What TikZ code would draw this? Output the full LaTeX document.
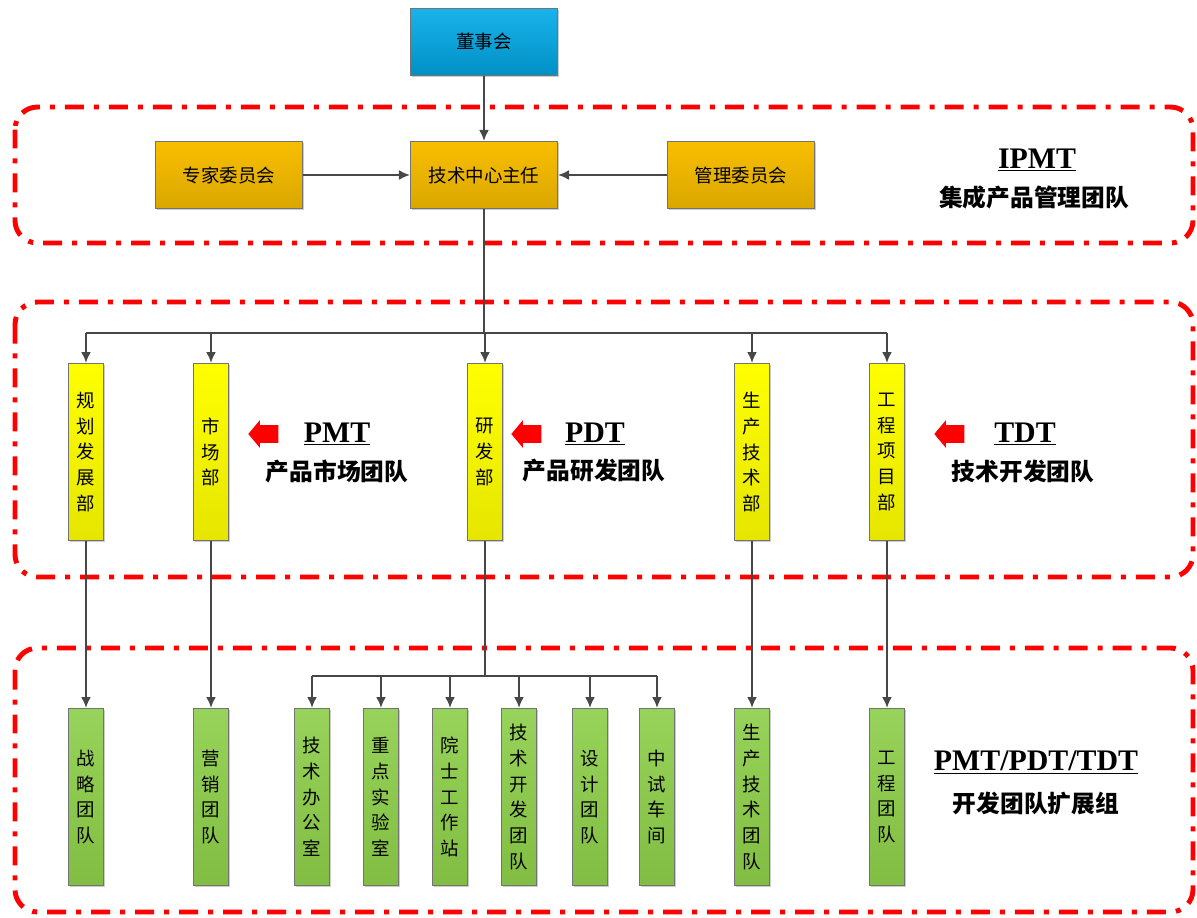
\documentclass[tikz,border=0pt]{standalone}
\usepackage{fontspec}
\setmainfont{Liberation Serif}
\newfontfamily\cjk{Noto Sans CJK SC}
\usetikzlibrary{arrows.meta,positioning,calc,shapes.arrows,shadows}
\definecolor{boardblue}{RGB}{0,170,232}
\definecolor{chieforange}{RGB}{248,190,0}
\definecolor{deptyellow}{RGB}{255,255,0}
\definecolor{teamgreen}{RGB}{140,206,72}
\definecolor{zonered}{RGB}{255,0,0}
\tikzset{
  unitbox/.style={
    draw=black!55,line width=0.6pt,inner sep=0pt,align=center,
    font=\cjk\fontsize{10.5}{14.6}\selectfont,
    drop shadow={shadow xshift=0.9pt,shadow yshift=-0.9pt,fill=black!40}
  },
  topbox/.style={unitbox,minimum width=2.94cm,minimum height=1.34cm},
  boardbox/.style={topbox,top color=boardblue!90!white,bottom color=boardblue!85!black},
  chiefbox/.style={topbox,top color=chieforange,bottom color=chieforange!88!black},
  deptbox/.style={unitbox,minimum width=0.7cm,minimum height=3.54cm,
    top color=deptyellow,bottom color=deptyellow!90!black},
  teambox/.style={unitbox,minimum width=0.7cm,minimum height=3.54cm,
    top color=teamgreen!90!white,bottom color=teamgreen!92!black},
  flowarrow/.style={-{Latex[length=2.2mm,width=2mm]},line width=1.2pt,draw=black!72},
  busline/.style={line width=1.2pt,draw=black!72},
  zone/.style={draw=zonered,line width=2.8pt,rounded corners=0.45cm,
    dash pattern=on 0.38cm off 0.2cm on 0.1cm off 0.2cm},
  pointer/.style={single arrow,fill=zonered,draw=none,inner xsep=0pt,inner ysep=0.17cm,
    minimum height=0.6cm,single arrow head extend=0.1cm,
    single arrow tip angle=100,shape border rotate=180},
  teamlabel/.style={font=\bfseries\fontsize{17}{20}\selectfont,inner sep=1pt},
  teamname/.style={font=\cjk\bfseries\fontsize{13.5}{16}\selectfont,inner sep=1pt}
}
\begin{document}
\begin{tikzpicture}[x=0.02cm,y=-0.02cm]
  \useasboundingbox (0,0) rectangle (1197,917);
  % dashed zones
  \draw[zone] (15,107) rectangle (1193,243);
  \draw[zone] (15,302) rectangle (1193,577);
  \draw[zone] (15,648) rectangle (1193,912);

  % top level
  \node[boardbox] (board) at (484,42) {董事会};
  \node[chiefbox] (chief) at (484,175) {技术中心主任};
  \node[chiefbox] (expert) at (229,175) {专家委员会};
  \node[chiefbox] (mgmt) at (741,175) {管理委员会};
  \draw[flowarrow] (board) -- (chief);
  \draw[flowarrow] (expert) -- (chief);
  \draw[flowarrow] (mgmt) -- (chief);

  % departments
  \node[deptbox] (plan) at (86,452) {规\\划\\发\\展\\部};
  \node[deptbox] (mkt) at (211,452) {市\\场\\部};
  \node[deptbox] (rd) at (485,452) {研\\发\\部};
  \node[deptbox] (prod) at (752,452) {生\\产\\技\\术\\部};
  \node[deptbox] (eng) at (887,452) {工\\程\\项\\目\\部};
  \coordinate (bus1) at (484,333);
  \draw[busline] (chief) -- (bus1);
  \draw[busline] (plan|-bus1) -- (eng|-bus1);
  \foreach \n in {plan,mkt,rd,prod,eng}
    \draw[flowarrow] (\n|-bus1) -- (\n);

  % teams
  \node[teambox] (strat) at (86,797) {战\\略\\团\\队};
  \node[teambox] (sales) at (211,797) {营\\销\\团\\队};
  \node[teambox] (office) at (312,797) {技\\术\\办\\公\\室};
  \node[teambox] (lab) at (381,797) {重\\点\\实\\验\\室};
  \node[teambox] (acad) at (450,797) {院\\士\\工\\作\\站};
  \node[teambox] (devteam) at (519,797) {技\\术\\开\\发\\团\\队};
  \node[teambox] (design) at (590,797) {设\\计\\团\\队};
  \node[teambox] (pilot) at (657,797) {中\\试\\车\\间};
  \node[teambox] (prodteam) at (752,797) {生\\产\\技\\术\\团\\队};
  \node[teambox] (engteam) at (887,797) {工\\程\\团\\队};
  \draw[flowarrow] (plan) -- (strat);
  \draw[flowarrow] (mkt) -- (sales);
  \draw[flowarrow] (prod) -- (prodteam);
  \draw[flowarrow] (eng) -- (engteam);
  \coordinate (bus2) at (485,676);
  \draw[busline] (rd) -- (bus2);
  \draw[busline] (office|-bus2) -- (pilot|-bus2);
  \foreach \n in {office,lab,acad,devteam,design,pilot}
    \draw[flowarrow] (\n|-bus2) -- (\n);

  % team labels
  \node[teamlabel] (ipmt) at (1037,160) {\underline{IPMT}};
  \node[teamname] (ipmtname) at (1034,197) {集成产品管理团队};
  \node[pointer] (pmtarrow) at (267,434) {};
  \node[teamlabel] (pmt) at (337,434) {\underline{PMT}};
  \node[teamname] (pmtname) at (337,471) {产品市场团队};
  \node[pointer] (pdtarrow) at (530,434) {};
  \node[teamlabel] (pdt) at (595,434) {\underline{PDT}};
  \node[teamname] (pdtname) at (594,471) {产品研发团队};
  \node[pointer] (tdtarrow) at (953,434) {};
  \node[teamlabel] (tdt) at (1025,434) {\underline{TDT}};
  \node[teamname] (tdtname) at (1023,471) {技术开发团队};
  \node[teamlabel] (ext) at (1036,763) {\underline{PMT/PDT/TDT}};
  \node[teamname] (extname) at (1036,803) {开发团队扩展组};
\end{tikzpicture}
\end{document}
